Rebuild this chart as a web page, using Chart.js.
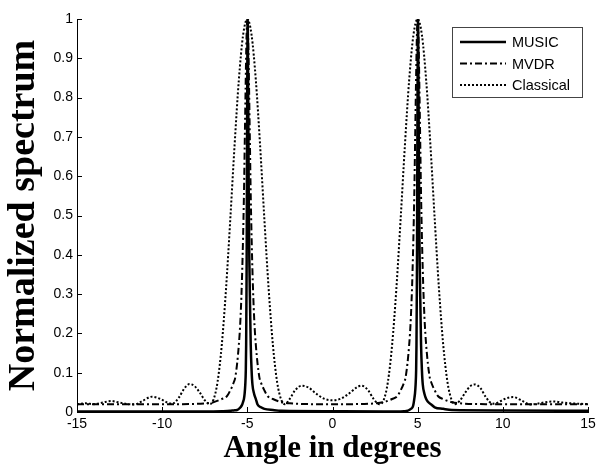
<!DOCTYPE html>
<html>
<head>
<meta charset="utf-8">
<script src="https://cdn.jsdelivr.net/npm/chart.js@4.4.1/dist/chart.umd.min.js"></script>
<style>
  html, body { margin: 0; padding: 0; background: #fff; }
</style>
</head>
<body>
<canvas id="spectrum" width="601" height="468"></canvas>
<script>
// tick values for both axes
const xTicks = [-15, -10, -5, 0, 5, 10, 15];
const yTicks = [0, 0.1, 0.2, 0.3, 0.4, 0.5, 0.6, 0.7, 0.8, 0.9, 1];

const seriesNames = ['MUSIC', 'MVDR', 'Classical'];

// MUSIC: very sharp peaks at -5 and 5 deg
const musicAngles = [-15, -10, -7, -6.5, -6.0, -5.8, -5.6, -5.5, -5.4, -5.3, -5.25, -5.2, -5.16, -5.12, -5.09, -5.07,
    -5.055, -5.04, -5.03, -5.02, -5.01, -5.0,
    -4.99, -4.98, -4.97, -4.96, -4.945, -4.93, -4.91, -4.88, -4.84, -4.8, -4.75, -4.7, -4.6, -4.5, -4.4, -4.2, -4.0, -3.5, -3, 0,
    3, 3.5, 4.0, 4.2, 4.4, 4.5, 4.6, 4.7, 4.75, 4.8, 4.84, 4.88, 4.91, 4.93, 4.945, 4.96, 4.97, 4.98, 4.99, 5.0,
    5.01, 5.02, 5.03, 5.04, 5.055, 5.07, 5.09, 5.12, 5.16, 5.2, 5.25, 5.3, 5.4, 5.5, 5.6, 5.8, 6.0, 6.5, 7, 10, 15];
const musicValues = [0.001, 0.001, 0.0015, 0.002, 0.003, 0.004, 0.005, 0.008, 0.012, 0.019, 0.026, 0.033, 0.046, 0.07, 0.106, 0.17,
    0.27, 0.38, 0.5, 0.65, 0.77, 0.88, 0.97, 1.0,
    0.97, 0.88, 0.77, 0.65, 0.5, 0.38, 0.27, 0.17, 0.106, 0.07, 0.046, 0.033, 0.019, 0.012, 0.008, 0.005, 0.003, 0.002, 0.0015, 0.001,
    0.0015, 0.002, 0.003, 0.005, 0.008, 0.012, 0.019, 0.033, 0.046, 0.07, 0.106, 0.17, 0.27, 0.38, 0.5, 0.65, 0.77, 0.88, 0.97, 1.0,
    0.97, 0.88, 0.77, 0.65, 0.5, 0.38, 0.27, 0.17, 0.106, 0.07, 0.046, 0.033, 0.026, 0.019, 0.012, 0.008, 0.005, 0.004, 0.003, 0.002, 0.0015, 0.001, 0.001];

// MVDR: narrower than classical, floor around 0.02
const mvdrAngles = [-15, -12, -9, -7.5, -7.0, -6.5, -6.2, -6.0, -5.8, -5.7, -5.5, -5.4, -5.3, -5.2, -5.15, -5.1, -5.05, -5.0,
    -4.95, -4.9, -4.85, -4.8, -4.7, -4.6, -4.5, -4.3, -4.2, -4.0, -3.8, -3.5, -3.0, -2.5, -1, 0,
    1, 2.5, 3.0, 3.5, 3.8, 4.0, 4.2, 4.3, 4.5, 4.6, 4.7, 4.8, 4.85, 4.9, 4.95, 5.0,
    5.05, 5.1, 5.15, 5.2, 5.3, 5.4, 5.5, 5.7, 5.8, 6.0, 6.2, 6.5, 7.0, 7.5, 9, 12, 15];
const mvdrValues = [0.020, 0.020, 0.020, 0.022, 0.025, 0.033, 0.040, 0.055, 0.075, 0.09, 0.17, 0.24, 0.36, 0.55, 0.69, 0.83, 0.95, 1.0,
    0.95, 0.83, 0.69, 0.55, 0.36, 0.24, 0.17, 0.09, 0.075, 0.055, 0.040, 0.033, 0.025, 0.022, 0.020, 0.020,
    0.020, 0.022, 0.025, 0.033, 0.040, 0.055, 0.075, 0.09, 0.17, 0.24, 0.36, 0.55, 0.69, 0.83, 0.95, 1.0,
    0.95, 0.83, 0.69, 0.55, 0.36, 0.24, 0.17, 0.09, 0.075, 0.055, 0.040, 0.033, 0.025, 0.022, 0.020, 0.020, 0.020];

// Classical (Bartlett): wide main lobes with sidelobes
const classicalAngles = [-15, -14.5, -14, -13.5, -13, -12.5, -12, -11.6, -11.2, -10.6, -10.1, -9.7, -9.4, -9.0,
    -8.7, -8.4, -8.1, -7.8, -7.5, -7.2, -7.0, -6.75, -6.5, -6.25, -6.0, -5.75, -5.5, -5.25, -5.0,
    -4.75, -4.5, -4.25, -4.0, -3.75, -3.5, -3.25, -3.0, -2.8, -2.5, -2.2, -1.8, -1.4, -1.0, -0.5, 0,
    0.5, 1.0, 1.4, 1.7, 2.1, 2.4, 2.75, 3.0, 3.25, 3.5, 3.75, 4.0, 4.25, 4.5, 4.75, 5.0,
    5.25, 5.5, 5.75, 6.0, 6.25, 6.5, 6.75, 7.0, 7.2, 7.5, 7.8, 8.1, 8.35, 8.7, 9.0, 9.4, 9.7,
    10.1, 10.6, 11.2, 11.6, 12, 12.5, 13, 13.5, 14, 14.5, 15];
const classicalValues = [0.020, 0.022, 0.020, 0.024, 0.028, 0.024, 0.020, 0.019, 0.027, 0.039, 0.033, 0.024, 0.021, 0.038,
    0.060, 0.071, 0.066, 0.050, 0.030, 0.020, 0.030, 0.076, 0.171, 0.314, 0.491, 0.678, 0.844, 0.959, 1.0,
    0.959, 0.844, 0.678, 0.491, 0.314, 0.171, 0.076, 0.030, 0.020, 0.034, 0.055, 0.067, 0.062, 0.048, 0.034, 0.030,
    0.034, 0.048, 0.062, 0.067, 0.055, 0.034, 0.020, 0.030, 0.076, 0.171, 0.314, 0.491, 0.678, 0.844, 0.959, 1.0,
    0.959, 0.844, 0.678, 0.491, 0.314, 0.171, 0.076, 0.030, 0.020, 0.030, 0.050, 0.066, 0.070, 0.060, 0.038, 0.021, 0.024,
    0.033, 0.038, 0.027, 0.019, 0.021, 0.025, 0.027, 0.024, 0.022, 0.021, 0.020];

function points(xs, ys) {
    return xs.map((x, i) => ({ x, y: ys[i] }));
}

// MATLAB-ish look: inward tick marks and a boxed legend in the top right
const matlabLook = {
    id: 'matlabLook',
    afterDatasetsDraw(chart) {
        const { ctx, chartArea: a, scales: { x, y } } = chart;
        ctx.save();
        ctx.strokeStyle = '#000';
        ctx.lineWidth = 1;
        ctx.beginPath();
        x.ticks.forEach(t => {
            const px = Math.round(x.getPixelForValue(t.value)) + 0.5;
            ctx.moveTo(px, a.bottom);
            ctx.lineTo(px, a.bottom - 5);
        });
        y.ticks.forEach(t => {
            const py = Math.round(y.getPixelForValue(t.value)) + 0.5;
            ctx.moveTo(a.left, py);
            ctx.lineTo(a.left + 5, py);
        });
        ctx.stroke();

        // legend
        const bx = 452.5, by = 27.5, bw = 130, bh = 70;
        ctx.fillStyle = '#fff';
        ctx.fillRect(bx, by, bw, bh);
        ctx.strokeStyle = '#444';
        ctx.strokeRect(bx, by, bw, bh);
        ctx.font = '14.5px "Liberation Sans", Arial, sans-serif';
        ctx.textBaseline = 'middle';
        ctx.fillStyle = '#000';
        chart.data.datasets.forEach((ds, i) => {
            const ly = 42 + i * 21.5;
            ctx.setLineDash(ds.borderDash || []);
            ctx.lineWidth = ds.borderWidth;
            ctx.strokeStyle = ds.borderColor;
            ctx.beginPath();
            ctx.moveTo(460, ly);
            ctx.lineTo(506, ly);
            ctx.stroke();
            ctx.setLineDash([]);
            ctx.fillText(ds.label, 512, ly + 1);
        });
        ctx.restore();
    }
};

new Chart(document.getElementById('spectrum'), {
    type: 'line',
    data: {
        datasets: [
            {
                label: seriesNames[0],
                data: points(musicAngles, musicValues),
                borderColor: '#000',
                borderWidth: 2.5,
                borderDash: [],
            },
            {
                label: seriesNames[1],
                data: points(mvdrAngles, mvdrValues),
                borderColor: '#000',
                borderWidth: 2,
                borderDash: [7, 3, 2, 3],
            },
            {
                label: seriesNames[2],
                data: points(classicalAngles, classicalValues),
                borderColor: '#000',
                borderWidth: 2,
                borderDash: [2, 2],
            },
        ],
    },
    options: {
        responsive: false,
        animation: false,
        layout: { padding: { top: 19, right: 13, bottom: 0, left: 0 } },
        elements: {
            point: { radius: 0 },
            line: { cubicInterpolationMode: 'monotone', fill: false },
        },
        plugins: {
            legend: { display: false },
            tooltip: { enabled: false },
        },
        scales: {
            x: {
                type: 'linear',
                min: -15, max: 15,
                afterBuildTicks: s => { s.ticks = xTicks.map(v => ({ value: v })); },
                afterFit: s => { s.height = 56; },
                ticks: {
                    color: '#000',
                    font: { family: '"Liberation Sans", Arial, sans-serif', size: 14 },
                    padding: 4,
                    maxRotation: 0,
                    callback: v => String(v),
                },
                grid: { display: false, drawTicks: false },
                border: { display: true, color: '#000', width: 1 },
                title: {
                    display: true,
                    text: 'Angle in degrees',
                    color: '#000',
                    font: { family: '"Liberation Serif", "Times New Roman", serif', size: 31, weight: 'bold' },
                    padding: { top: 0, bottom: 0 },
                },
            },
            y: {
                min: 0, max: 1,
                afterBuildTicks: s => { s.ticks = yTicks.map(v => ({ value: v })); },
                afterFit: s => { s.width = 77; },
                ticks: {
                    color: '#000',
                    font: { family: '"Liberation Sans", Arial, sans-serif', size: 14 },
                    padding: 4,
                    callback: v => String(v),
                },
                grid: { display: false, drawTicks: false },
                border: { display: true, color: '#000', width: 1 },
                title: {
                    display: true,
                    text: 'Normalized spectrum',
                    color: '#000',
                    font: { family: '"Liberation Serif", "Times New Roman", serif', size: 38, weight: 'bold' },
                    padding: { top: 1, bottom: 0 },
                },
            },
        },
    },
    plugins: [matlabLook],
});
</script>
</body>
</html>
